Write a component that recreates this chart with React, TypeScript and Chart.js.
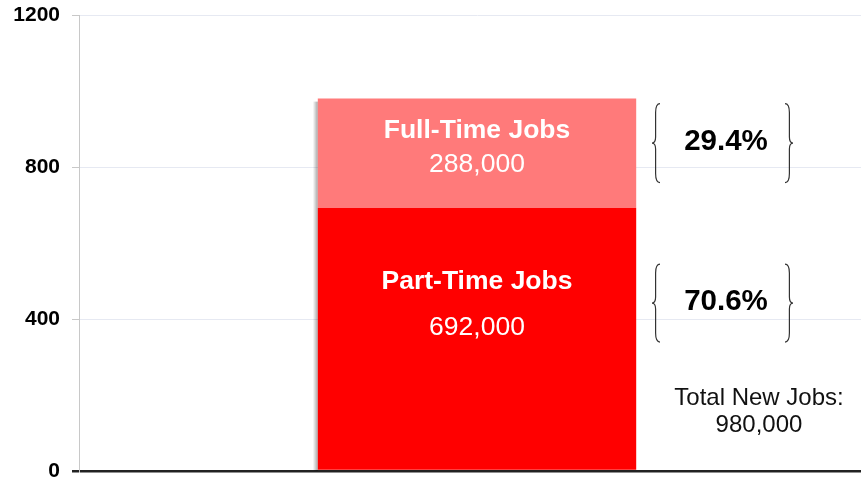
import React, { useEffect, useRef } from "react";
import { Chart, registerables } from "chart.js";

Chart.register(...registerables);

const categories = ["New Jobs"];
const partTimeValues = [692];
const fullTimeValues = [288];
const partTimeLabel = ["Part-Time Jobs", "692,000"];
const fullTimeLabel = ["Full-Time Jobs", "288,000"];
const percentLabels = ["70.6%", "29.4%"];
const totalLabel = ["Total New Jobs:", "980,000"];
const yTicks = [0, 400, 800, 1200];

const FONT = "'Liberation Sans', Arial, sans-serif";

function drawBrace(ctx: CanvasRenderingContext2D, x: number, top: number, bottom: number, dir: number) {
  const mid = (top + bottom) / 2;
  const w = 8 * dir;
  const s = x - w * 0.55;
  ctx.beginPath();
  ctx.moveTo(x, top);
  ctx.quadraticCurveTo(s, top, s, top + 9);
  ctx.lineTo(s, mid - 6);
  ctx.quadraticCurveTo(s, mid, x - w, mid);
  ctx.quadraticCurveTo(s, mid, s, mid + 6);
  ctx.lineTo(s, bottom - 9);
  ctx.quadraticCurveTo(s, bottom, x, bottom);
  ctx.stroke();
}

const shadowPlugin = {
  id: "barShadow",
  beforeDatasetsDraw(chart: any) {
    const ctx: CanvasRenderingContext2D = chart.ctx;
    const y = chart.scales.y;
    const bar = chart.getDatasetMeta(0).data[0];
    const left = bar.x - bar.width / 2;
    const top = y.getPixelForValue(partTimeValues[0] + fullTimeValues[0]);
    const bottom = y.getPixelForValue(0);
    ctx.save();
    const g = ctx.createLinearGradient(left - 5, 0, left, 0);
    g.addColorStop(0, "rgba(0,0,0,0)");
    g.addColorStop(1, "rgba(0,0,0,0.35)");
    ctx.fillStyle = g;
    ctx.fillRect(left - 5, top + 3, 5, bottom - top - 3);
    ctx.restore();
  },
};

const annotationPlugin = {
  id: "annotations",
  afterDatasetsDraw(chart: any) {
    const ctx: CanvasRenderingContext2D = chart.ctx;
    const y = chart.scales.y;
    const bar = chart.getDatasetMeta(0).data[0];
    const cx = bar.x;
    const pt = partTimeValues[0];
    const ft = fullTimeValues[0];
    const yTopTotal = y.getPixelForValue(pt + ft);
    const yMid = y.getPixelForValue(pt);

    ctx.save();
    ctx.fillStyle = "#ffffff";
    ctx.textAlign = "center";
    ctx.textBaseline = "middle";
    ctx.font = `bold 26.5px ${FONT}`;
    ctx.fillText(fullTimeLabel[0], cx, yTopTotal + 32);
    ctx.font = `26.5px ${FONT}`;
    ctx.fillText(fullTimeLabel[1], cx, yTopTotal + 66);
    ctx.font = `bold 26.5px ${FONT}`;
    ctx.fillText(partTimeLabel[0], cx, yMid + 74);
    ctx.font = `26.5px ${FONT}`;
    ctx.fillText(partTimeLabel[1], cx, yMid + 120);

    const px = 726;
    ctx.fillStyle = "#000000";
    ctx.font = `bold 29.5px ${FONT}`;
    const ftY = yTopTotal + 43;
    const ptY = yMid + 94;
    ctx.fillText(percentLabels[1], px, ftY);
    ctx.fillText(percentLabels[0], px, ptY);
    ctx.strokeStyle = "#333333";
    ctx.lineWidth = 1.2;
    drawBrace(ctx, 660, ftY - 38, ftY + 41, 1);
    drawBrace(ctx, 785, ftY - 38, ftY + 41, -1);
    drawBrace(ctx, 660, ptY - 38, ptY + 40, 1);
    drawBrace(ctx, 785, ptY - 38, ptY + 40, -1);

    ctx.font = `24px ${FONT}`;
    ctx.fillStyle = "#111111";
    ctx.fillText(totalLabel[0], 759, 398);
    ctx.fillText(totalLabel[1], 759, 425);
    ctx.restore();
  },
};

export default function App() {
  const ref = useRef<HTMLCanvasElement>(null);
  useEffect(() => {
    if (!ref.current) return;
    const chart = new Chart(ref.current, {
      type: "bar",
      data: {
        labels: categories,
        datasets: [
          {
            label: "Part-Time Jobs",
            data: partTimeValues,
            backgroundColor: "#ff0000",
            barPercentage: 0.4,
            categoryPercentage: 1,
          },
          {
            label: "Full-Time Jobs",
            data: fullTimeValues,
            backgroundColor: "#ff7a7a",
            barPercentage: 0.4,
            categoryPercentage: 1,
          },
        ],
      },
      options: {
        responsive: false,
        animation: false,
        layout: { padding: { top: 15, bottom: 6, left: 0, right: 0 } },
        plugins: { legend: { display: false }, tooltip: { enabled: false } },
        scales: {
          x: { stacked: true, display: false },
          y: {
            stacked: true,
            min: 0,
            max: 1200,
            afterBuildTicks: (scale: any) => {
              scale.ticks = yTicks.map((v) => ({ value: v }));
            },
            afterFit: (scale: any) => {
              scale.width = 79;
              scale.paddingTop = 0;
              scale.paddingBottom = 0;
            },
            ticks: {
              padding: 12,
              color: "#000000",
              font: { family: FONT, size: 21, weight: "bold" },
              callback: (v: any) => String(v),
            },
            border: { color: "#c8c8c8", width: 1 },
            grid: {
              tickLength: 7,
              color: (c: any) => (c.tick && c.tick.value === 0 ? "#222222" : "#e6e9f2"),
              tickColor: (c: any) => (c.tick && c.tick.value === 0 ? "#222222" : "#c8c8c8"),
              lineWidth: (c: any) => (c.tick && c.tick.value === 0 ? 2.5 : 1),
            },
          },
        },
      },
      plugins: [shadowPlugin, annotationPlugin],
    } as any);
    return () => chart.destroy();
  }, []);
  return (
    <div style={{ position: "fixed", left: 0, top: 0, width: 861, height: 477, overflow: "hidden", background: "#fff" }}>
      <canvas ref={ref} width={875} height={477} style={{ display: "block" }} />
    </div>
  );
}
